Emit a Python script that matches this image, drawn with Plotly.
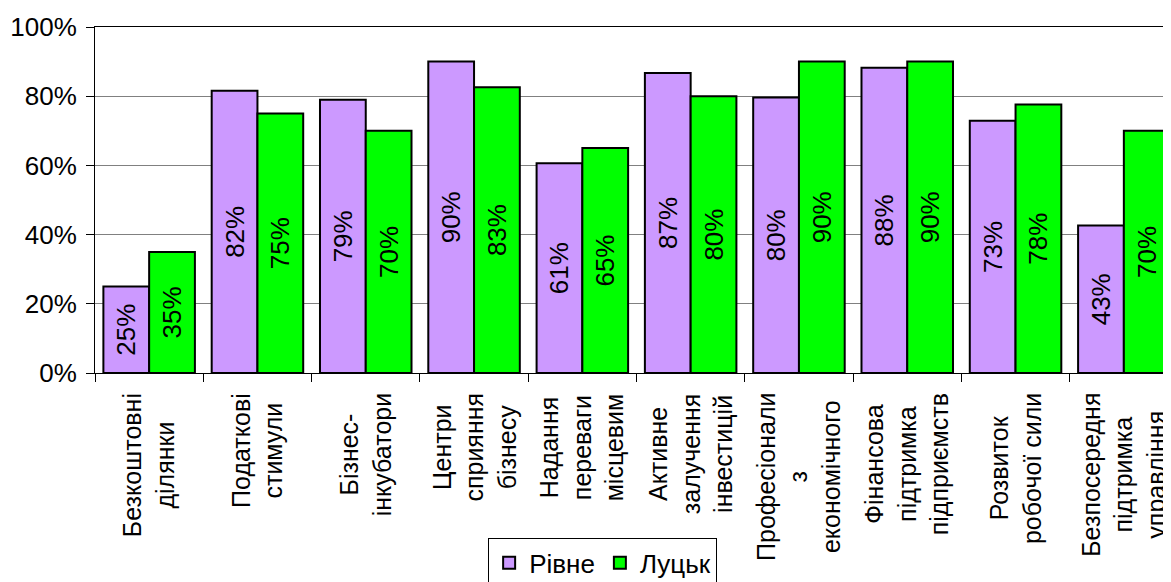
import plotly.graph_objects as go

categories = [
    "Безкоштовні<br>ділянки",
    "Податкові<br>стимули",
    "Бізнес-<br>інкубатори",
    "Центри<br>сприяння<br>бізнесу",
    "Надання<br>переваги<br>місцевим",
    "Активне<br>залучення<br>інвестицій",
    "Професіонали<br>з<br>економічного",
    "Фінансова<br>підтримка<br>підприємств",
    "Розвиток<br>робочої сили",
    "Безпосередня<br>підтримка<br>управління",
]
rivne = [0.25, 0.816, 0.79, 0.90, 0.606, 0.867, 0.796, 0.882, 0.729, 0.426]
lutsk = [0.35, 0.75, 0.70, 0.826, 0.65, 0.80, 0.90, 0.90, 0.776, 0.70]
series_names = ["Рівне", "Луцьк"]
colors = ["#CC99FF", "#00FF00"]
y_ticks = [0, 0.2, 0.4, 0.6, 0.8, 1.0]

FONT = "Liberation Sans, Arial, sans-serif"
FS = 26

fig = go.Figure()
for name, vals, col in zip(series_names, [rivne, lutsk], colors):
    fig.add_trace(go.Bar(
        x=categories, y=vals, name=name,
        marker=dict(color=col, line=dict(color="black", width=2)),
        texttemplate="%{y:.0%}", textposition="inside",
        insidetextanchor="middle", textangle=-90,
        textfont=dict(size=FS, color="black", family=FONT),
        constraintext="none",
    ))

for c in categories:
    fig.add_annotation(
        x=c, xref="x", y=-0.052, yref="paper",
        text=c, textangle=-90, showarrow=False,
        xanchor="center", yanchor="top", align="center",
        font=dict(size=25, color="black", family=FONT),
    )

fig.update_layout(
    width=1171, height=600,
    margin=dict(l=87, r=1, t=19, b=235),
    paper_bgcolor="white", plot_bgcolor="white",
    barmode="group", bargap=0.155, bargroupgap=0,
    font=dict(family=FONT, size=FS, color="black"),
    legend=dict(
        orientation="h", x=0.363, xanchor="left", y=-0.478, yanchor="top",
        bordercolor="black", borderwidth=1, font=dict(size=FS),
    ),
    xaxis=dict(
        type="category", range=[-0.5, 9.5],
        showticklabels=False, ticks="outside", ticklen=8,
        tickson="boundaries", tickcolor="black",
        showline=True, linecolor="black", linewidth=1, mirror=True,
        showgrid=False,
    ),
    yaxis=dict(
        range=[0, 1], tickvals=y_ticks, tickformat=".0%",
        ticks="outside", ticklen=8, tickcolor="black",
        showline=True, linecolor="black", linewidth=1,
        showgrid=True, gridcolor="#808080", gridwidth=1,
        ticklabelstandoff=4, zeroline=False,
        tickfont=dict(size=FS),
    ),
)

fig.write_html("out.html")
